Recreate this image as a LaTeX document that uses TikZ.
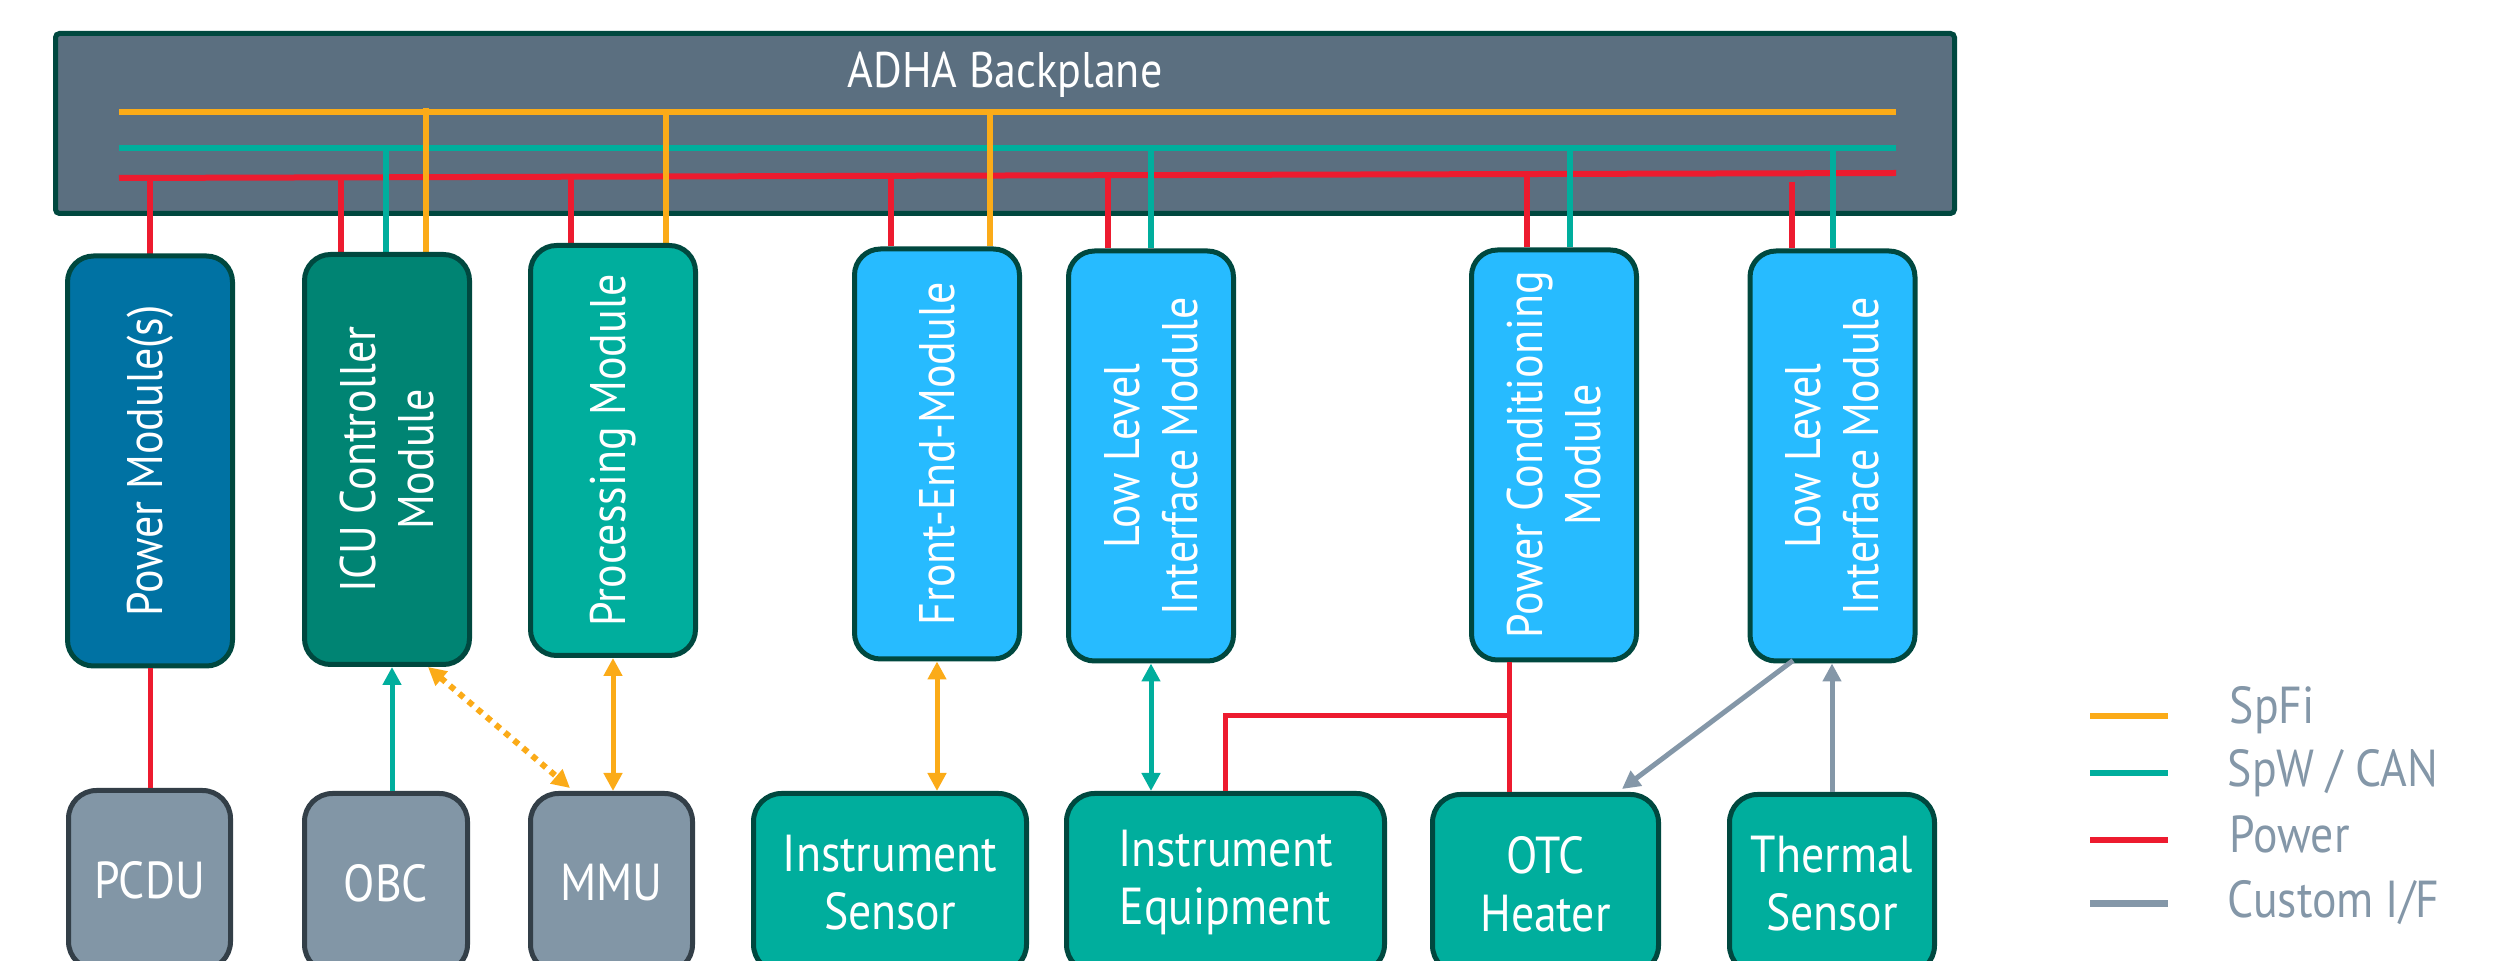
\documentclass[tikz,border=0pt]{standalone}
\usepackage{fontspec}
\setmainfont{PT Sans}[FakeStretch=0.88]
\usetikzlibrary{arrows.meta,calc}
\definecolor{cbpfill}{HTML}{5B6F80}
\definecolor{cdkgreen}{HTML}{00483F}
\definecolor{cpmblue}{HTML}{0072A3}
\definecolor{cicugreen}{HTML}{008473}
\definecolor{cteal}{HTML}{00AE9D}
\definecolor{cblue}{HTML}{27BBFF}
\definecolor{cgrayfill}{HTML}{8296A6}
\definecolor{cgrayborder}{HTML}{333F48}
\definecolor{corange}{HTML}{FBAB18}
\definecolor{cred}{HTML}{ED1B2F}
\definecolor{cline}{HTML}{8497A8}
\newcommand\boxfont{\fontsize{13}{14.5}\selectfont}
\newcommand\modfont{\fontsize{12.5}{14.5}\selectfont}
\newcommand\bpfont{\fontsize{12.5}{15}\selectfont}
\tikzset{
  >={Triangle[length=4.5pt,width=4.5pt]},
  modbox/.style={draw=cdkgreen, line width=1.25pt, rounded corners=6.5pt,
    minimum width=41.25pt, minimum height=102.5pt, inner sep=0pt, outer sep=0.625pt},
  botbox/.style={line width=1.25pt, rounded corners=7pt, minimum height=44.75pt,
    inner sep=0pt, outer sep=0.625pt, text=white, align=center, font=\boxfont},
  graybox/.style={botbox, draw=cgrayborder, fill=cgrayfill},
  tealbox/.style={botbox, draw=cdkgreen, fill=cteal},
  modtext/.style={text=white, align=center, font=\modfont, rotate=90, inner sep=0pt},
  bus/.style={line width=1.5pt},
  spur/.style={line width=1.4pt},
  conn/.style={line width=1.25pt},
  legline/.style={line width=1.5pt},
  legtext/.style={text=cline, font=\boxfont, anchor=base west, inner sep=0pt},
}
\begin{document}
\begin{tikzpicture}[x=0.25pt,y=-0.25pt]
\useasboundingbox (0,0) rectangle (2499,961);
\clip (0,0) rectangle (2499,961);
% backplane
\node[draw=cdkgreen, fill=cbpfill, line width=1.25pt, rounded corners=1pt,
      minimum width=474.75pt, minimum height=45pt, inner sep=0pt] (bp) at (1005,123.5) {};
\node[anchor=base, text=white, font=\bpfont, inner sep=0pt] (bptext) at (1005,88) {ADHA Backplane};
% buses
\coordinate (oL) at (119,112); \coordinate (oR) at (1896,112);
\coordinate (tL) at (119,148); \coordinate (tR) at (1896,148);
\coordinate (rL) at (119,178); \coordinate (rR) at (1896,173);
\draw[bus, corange] (oL) -- (oR);
\draw[bus, cteal] (tL) -- (tR);
\draw[bus, cred] (rL) -- (rR);
% module box positions
\path
  (150,461)    coordinate (pmC)
  (387,459.5)  coordinate (icuC)
  (613,450.5)  coordinate (procC)
  (937,454)    coordinate (feC)
  (1151,456)   coordinate (ll1C)
  (1554,455)   coordinate (pcC)
  (1832.5,456) coordinate (ll2C);
% spurs (drawn over backplane, under boxes)
\draw[spur, cred]    (150,176)  -- (150,254);
\draw[spur, cred]    (341,176)  -- (341,252);
\draw[spur, cteal]   (386,148)  -- (386,252);
\draw[spur, corange] (426,108)  -- (426,252);
\draw[spur, cred]    (571,176)  -- (571,243);
\draw[spur, corange] (666,112)  -- (666,243);
\draw[spur, cred]    (891,176)  -- (891,246);
\draw[spur, corange] (990,112)  -- (990,246);
\draw[spur, cred]    (1108,176) -- (1108,248);
\draw[spur, cteal]   (1151,148) -- (1151,248);
\draw[spur, cred]    (1527,175) -- (1527,247);
\draw[spur, cteal]   (1570,148) -- (1570,247);
\draw[spur, cred]    (1792,182) -- (1792,248);
\draw[spur, cteal]   (1833,148) -- (1833,248);
% module boxes
\node[modbox, fill=cpmblue]   (pm)   at (pmC)   {};
\node[modbox, fill=cicugreen] (icu)  at (icuC)  {};
\node[modbox, fill=cteal]     (proc) at (procC) {};
\node[modbox, fill=cblue]     (fe)   at (feC)   {};
\node[modbox, fill=cblue]     (ll1)  at (ll1C)  {};
\node[modbox, fill=cblue]     (pc)   at (pcC)   {};
\node[modbox, fill=cblue]     (ll2)  at (ll2C)  {};
% module texts
\node[modtext] (pmT)   at (pm)   {Power Module(s)};
\node[modtext] (icuT)  at (icu)  {ICU Controller\\Module};
\node[modtext] (procT) at (proc) {Processing Module};
\node[modtext] (feT)   at (fe)   {Front-End-Module};
\node[modtext] (ll1T)  at (ll1)  {Low Level\\Interface Module};
\node[modtext] (pcT)   at (pc)   {Power Conditioning\\Module};
\node[modtext] (ll2T)  at (ll2)  {Low Level\\Interface Module};
% bottom boxes
\node[graybox, minimum width=40.5pt]  (pcdu) at (149.5,880)  {PCDU};
\node[graybox, minimum width=40.75pt] (obc)  at (386,883)    {OBC};
\node[graybox, minimum width=40.5pt]  (mmu)  at (611.5,883)  {MMU};
\node[tealbox, minimum width=68.25pt] (isen) at (890,883)    {Instrument\\Sensor};
\node[tealbox, minimum width=79.5pt]  (ieq)  at (1225.5,883) {Instrument\\Equipment};
\node[tealbox, minimum width=56.5pt]  (otc)  at (1545.5,884) {OTC\\Heater};
\node[tealbox, minimum width=51.25pt] (ts)   at (1832,884)   {Thermal\\Sensor};
% connectors
\draw[conn, cred] (pm.south) -- (pm.south |- pcdu.north);
\coordinate (obcA) at ($(obc.north)+(6,0)$);
\draw[conn, cteal, ->] (obcA) -- (obcA |- icu.south);
\draw[conn, corange, <->, dash pattern=on 1.5pt off 1.5pt, line width=1.5pt]
  ($(icu.south)+(41,0)$) -- ($(mmu.north)+(-41.5,-3)$);
\draw[conn, corange, <->] (proc.south) -- (proc.south |- mmu.north);
\draw[conn, corange, <->] (fe.south) -- (fe.south |- isen.north);
\draw[conn, cteal, <->] (ll1.south) -- (ll1.south |- ieq.north);
\coordinate (pcB) at ($(pc.south)+(-45,0)$);
\draw[conn, cred] (pcB) -- (pcB |- otc.north);
\draw[conn, cred] (ieq.north) |- ($(pcB)+(0,53)$);
\draw[conn, cline, ->] ($(ll2.south)+(-39.5,-3)$) -- ($(otc.north)+(76.5,-3)$);
\draw[conn, cline, ->] (ts.north) -- (ts.north |- ll2.south);
% legend
\draw[legline, corange] (2090,716) -- (2168,716);
\draw[legline, cteal]   (2090,773) -- (2168,773);
\draw[legline, cred]    (2090,840) -- (2168,840);
\draw[legline, cline, line width=1.75pt] (2090,904) -- (2168,904);
\node[legtext] (lg1) at (2229,724) {SpFi};
\node[legtext] (lg2) at (2227,787) {SpW / CAN};
\node[legtext] (lg3) at (2229,853) {Power};
\node[legtext] (lg4) at (2227,918) {Custom I/F};
\end{tikzpicture}
\end{document}
